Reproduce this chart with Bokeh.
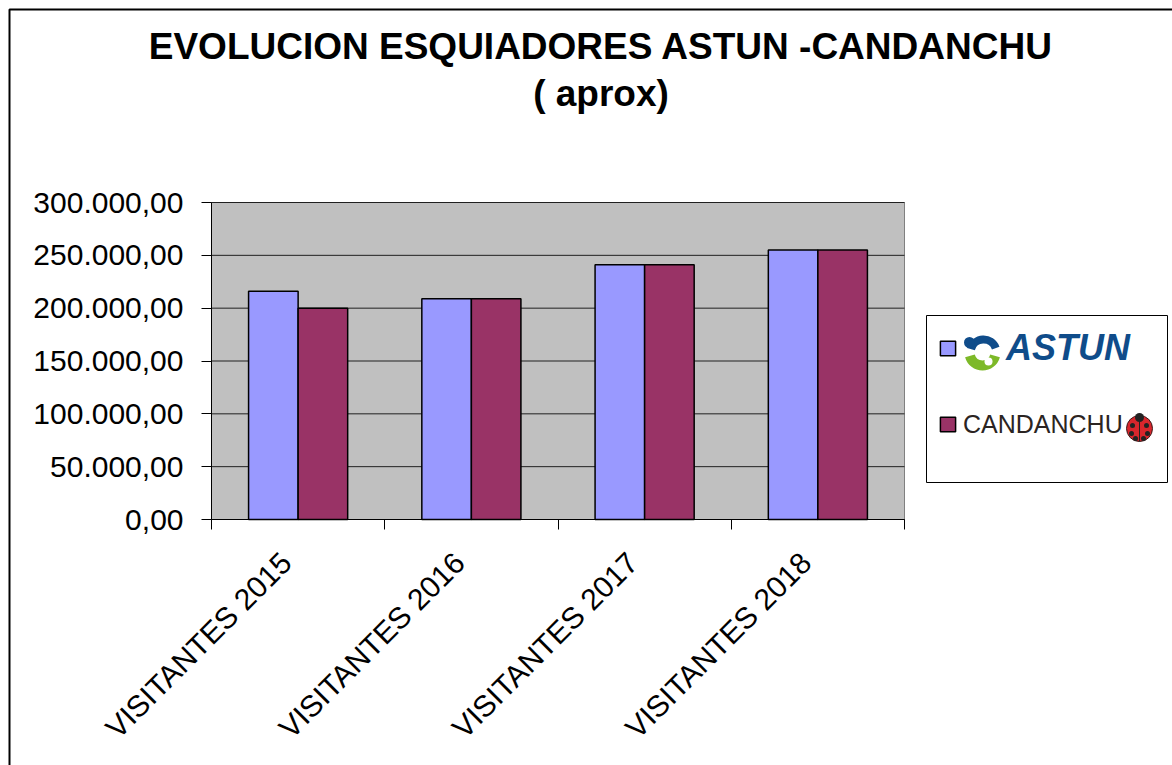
import math
from bokeh.plotting import figure
from bokeh.models import (Range1d, FixedTicker, Legend, LegendItem, Label,
                          BoxAnnotation, ColumnDataSource)
from bokeh.transform import dodge
from bokeh.embed import file_html
from bokeh.resources import INLINE

# ---------------- data ----------------
categories = ["VISITANTES 2015", "VISITANTES 2016", "VISITANTES 2017", "VISITANTES 2018"]
astun = [216000, 209000, 241000, 255000]
candanchu = [200000, 209000, 241000, 255000]
series_names = ["ASTUN", "CANDANCHU"]
series_colors = ["#9999FF", "#993366"]
y_ticks = [0, 50000, 100000, 150000, 200000, 250000, 300000]
y_tick_labels = ["0,00", "50.000,00", "100.000,00", "150.000,00",
                 "200.000,00", "250.000,00", "300.000,00"]
title_lines = ["EVOLUCION ESQUIADORES ASTUN -CANDANCHU", "( aprox)"]

# ---------------- layout (page pixels) ----------------
W, H = 1172, 765
PL, PR, PT, PB = 211, 904, 202, 519          # plot-area edges
Y_MAX = 300000
n = len(categories)
UX = (PR - PL) / n                            # px per category
UY = Y_MAX / (PB - PT)                        # value per px
LABEL_SHIFT = -0.069                          # x-label anchor shift (category units)


def px2x(px):
    return (px - PL) / UX


def py2y(py):
    return (PB - py) * UY


positions = [i + 0.5 for i in range(n)]
label_pos = [x + LABEL_SHIFT for x in positions]
src = ColumnDataSource(dict(x=positions, astun=astun, candanchu=candanchu))

# the frame covers the whole canvas; the plot area is drawn inside it
p = figure(width=W, height=H,
           x_range=Range1d(px2x(0), px2x(W)), y_range=Range1d(py2y(H), py2y(0)),
           output_backend="svg", toolbar_location=None, title=None,
           min_border=0, min_border_left=0, min_border_right=0,
           min_border_top=0, min_border_bottom=0)
p.outline_line_color = None
p.background_fill_color = "white"
p.border_fill_color = "white"
p.xgrid.visible = False
p.ygrid.visible = False

# plot area
p.quad(left=[0], right=[n], bottom=[0], top=[Y_MAX], fill_color="#C0C0C0",
       line_color="#808080", line_width=1)
# horizontal gridlines
p.segment(x0=[0] * len(y_ticks), x1=[n] * len(y_ticks), y0=y_ticks, y1=y_ticks,
          line_color="#202020", line_width=1)

bw = 0.286
r1 = p.vbar(x=dodge("x", -bw / 2, range=p.x_range), top="astun", width=bw, source=src,
            fill_color=series_colors[0], line_color="black", line_width=1.5)
r2 = p.vbar(x=dodge("x", bw / 2, range=p.x_range), top="candanchu", width=bw, source=src,
            fill_color=series_colors[1], line_color="black", line_width=1.5)

# y axis
ya = p.yaxis[0]
ya.fixed_location = 0
ya.bounds = (0, Y_MAX)
ya.ticker = FixedTicker(ticks=y_ticks)
ya.major_label_overrides = dict(zip(y_ticks, y_tick_labels))
ya.major_label_text_font = "Liberation Sans"
ya.major_label_text_font_size = "30px"
ya.major_label_text_color = "black"
ya.major_tick_out = 10
ya.major_tick_in = 0
ya.major_tick_line_color = "black"
ya.minor_tick_line_color = None
ya.axis_line_color = "black"
ya.major_label_standoff = 18

# x axis
xa = p.xaxis[0]
xa.fixed_location = 0
xa.bounds = (0, n)
xa.ticker = FixedTicker(ticks=label_pos, minor_ticks=list(range(n + 1)))
xa.major_label_overrides = dict(zip(label_pos, categories))
xa.major_label_orientation = math.pi / 4
xa.major_label_text_font = "Liberation Sans"
xa.major_label_text_font_size = "30px"
xa.major_label_text_color = "black"
xa.major_tick_line_color = None
xa.major_tick_out = 0
xa.major_tick_in = 0
xa.minor_tick_out = 10
xa.minor_tick_in = 0
xa.minor_tick_line_color = "black"
xa.axis_line_color = "black"
xa.major_label_standoff = 28

# titles
for text, base in zip(title_lines, [46, 93]):
    p.add_layout(Label(x=px2x(600.5), y=py2y(base), text=text, text_align="center",
                       text_baseline="alphabetic", text_font="Liberation Sans",
                       text_font_style="bold", text_font_size="37px", text_color="black"))

# outer chart border
p.add_layout(BoxAnnotation(left=px2x(9), right=px2x(W + 50), top=py2y(9), bottom=py2y(H + 50),
                           fill_color=None, line_color="black", line_alpha=1,
                           line_width=2))

# legend box (drawn under the legend entries)
p.quad(left=[px2x(926)], right=[px2x(1167)], top=[py2y(315)], bottom=[py2y(482)],
       fill_color="white", line_color="black", line_width=1)

# ASTUN logo mark (approximation)
p.annular_wedge(x=[px2x(983)], y=[py2y(352)], inner_radius=9, outer_radius=17,
                inner_radius_units="screen", outer_radius_units="screen",
                start_angle=math.radians(20), end_angle=math.radians(165),
                fill_color="#0F4C8A", line_color=None)
p.scatter(x=[px2x(969)], y=[py2y(342)], size=11, marker="circle",
          fill_color="#0F4C8A", line_color=None)
p.annular_wedge(x=[px2x(982)], y=[py2y(352)], inner_radius=8, outer_radius=18,
                inner_radius_units="screen", outer_radius_units="screen",
                start_angle=math.radians(195), end_angle=math.radians(345),
                fill_color="#7DB928", line_color=None)
p.scatter(x=[px2x(988)], y=[py2y(361)], size=8, marker="circle",
          fill_color="white", line_color=None)
# CANDANCHU ladybug (approximation)
p.scatter(x=[px2x(1139)], y=[py2y(428)], size=26, marker="circle",
          fill_color="#D9262C", line_color="#3A1A1A", line_width=1)
p.scatter(x=[px2x(1139)], y=[py2y(417)], size=9, marker="circle",
          fill_color="#222222", line_color=None)
p.segment(x0=[px2x(1139)], x1=[px2x(1139)], y0=[py2y(419)], y1=[py2y(441)],
          line_color="#222222", line_width=1)
p.scatter(x=[px2x(1132), px2x(1146), px2x(1131), px2x(1147), px2x(1135), px2x(1143)],
          y=[py2y(425), py2y(425), py2y(433), py2y(433), py2y(438), py2y(438)],
          size=5, marker="circle", fill_color="#222222", line_color=None)

common = dict(glyph_width=19, glyph_height=18, padding=0, margin=0, spacing=0,
              label_height=50, border_line_color=None, background_fill_alpha=0,
              label_text_font="Liberation Sans")
legA = Legend(items=[LegendItem(label=series_names[0], renderers=[r1])],
              location=(938, H - 373), label_standoff=49,
              label_text_font_style="bold italic", label_text_font_size="36px",
              label_text_color="#0F4C8A", **common)
legB = Legend(items=[LegendItem(label=series_names[1], renderers=[r2])],
              location=(938, H - 449), label_standoff=6,
              label_text_font_style="normal", label_text_font_size="25px",
              label_text_color="#2B2422", **common)
p.add_layout(legA)
p.add_layout(legB)

open("out.html", "w").write(file_html(p, INLINE))
